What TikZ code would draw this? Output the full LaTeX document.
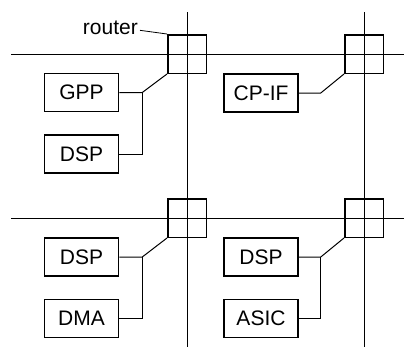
\documentclass[tikz,border=0pt]{standalone}
\usepackage{fontspec}
\setmainfont{Liberation Sans}
\usetikzlibrary{positioning}

\begin{document}
\begin{tikzpicture}[
  x=1pt, y=-1pt,
  router/.style={
    draw,
    line width=1.5pt,
    minimum size=38.5pt,
    inner sep=0pt
  },
  pe/.style={
    draw,
    line width=1.5pt,
    minimum width=74pt,
    minimum height=38pt,
    inner sep=0pt,
    font=\fontsize{21}{24}\selectfont
  },
  link/.style={line width=1pt},
  wire/.style={line width=1pt}
]
\useasboundingbox (0,0) rectangle (404,349);

% mesh links
\coordinate (h1w) at (11,54);  \coordinate (h1e) at (404,54);
\coordinate (h2w) at (11,218); \coordinate (h2e) at (404,218);
\coordinate (v1n) at (187,12); \coordinate (v1s) at (187,347);
\coordinate (v2n) at (364,12); \coordinate (v2s) at (364,347);
\draw[link] (h1w) -- (h1e);
\draw[link] (h2w) -- (h2e);
\draw[link] (v1n) -- (v1s);
\draw[link] (v2n) -- (v2s);

% routers
\node[router] (r11) at (187,54) {};
\node[router] (r12) at (364,54) {};
\node[router] (r21) at (187,218) {};
\node[router] (r22) at (364,218) {};

% processing elements
\node[pe] (gpp) at (81.5,92.5) {GPP};
\node[pe, below=22pt of gpp] (dspa) {DSP};
\node[pe] (cpif) at (261,93) {CP-IF};
\node[pe] (dspb) at (81.5,257) {DSP};
\node[pe, below=22pt of dspb] (dma) {DMA};
\node[pe] (dspc) at (261,257) {DSP};
\node[pe, below=22pt of dspc] (asic) {ASIC};

% network interfaces
\coordinate (j11) at ([xshift=23pt]gpp.east);
\coordinate (j12) at ([xshift=22pt]cpif.east);
\coordinate (j21) at ([xshift=23pt]dspb.east);
\coordinate (j22) at ([xshift=22pt]dspc.east);

\draw[wire] (gpp.east) -- (j11) -- (r11.south west);
\draw[wire] (dspa.east) -| (j11);
\draw[wire] (cpif.east) -- (j12) -- (r12.south west);
\draw[wire] (dspb.east) -- (j21) -- (r21.south west);
\draw[wire] (dma.east) -| (j21);
\draw[wire] (dspc.east) -- (j22) -- (r22.south west);
\draw[wire] (asic.east) -| (j22);

% label
\node[font=\fontsize{21}{24}\selectfont, anchor=base east, inner sep=0pt] (lbl) at (138,34) {router};
\draw[wire, line width=0.8pt] ([xshift=2pt,yshift=-3pt]lbl.east) -- (r11.north west);
\end{tikzpicture}
\end{document}
